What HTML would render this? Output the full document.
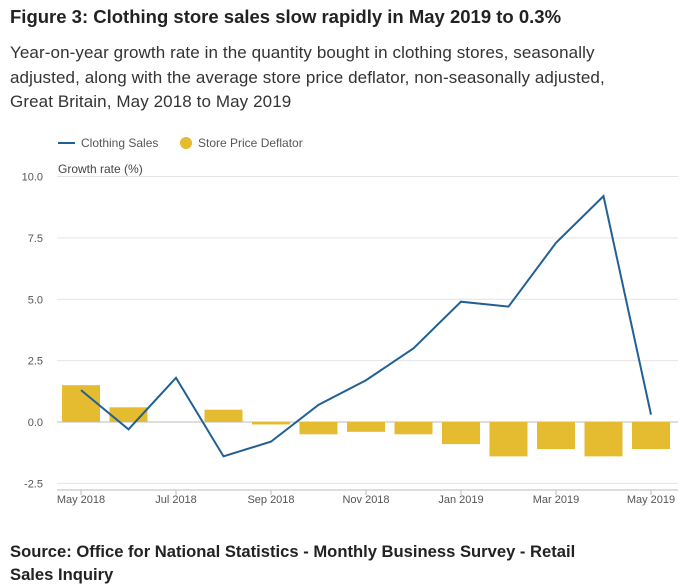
<!DOCTYPE html>
<html><head><meta charset="utf-8"><style>
body{margin:0;background:#fff;font-family:"Liberation Sans",sans-serif;width:687px;height:587px;overflow:hidden;position:relative}
.t{position:absolute;left:10px;top:6px;font-size:18.5px;font-weight:bold;color:#222}
.s{position:absolute;left:10px;top:41px;font-size:17px;letter-spacing:0.1px;line-height:24.5px;color:#333;width:600px}
.src{position:absolute;left:10px;top:540px;font-size:16.6px;font-weight:bold;line-height:23px;color:#222}
svg{position:absolute;left:0;top:0}
</style></head><body>
<div class="t">Figure 3: Clothing store sales slow rapidly in May 2019 to 0.3%</div>
<div class="s">Year-on-year growth rate in the quantity bought in clothing stores, seasonally<br>adjusted, along with the average store price deflator, non-seasonally adjusted,<br>Great Britain, May 2018 to May 2019</div>
<svg id="c" width="687" height="587"></svg>
<div class="src">Source: Office for National Statistics - Monthly Business Survey - Retail<br>Sales Inquiry</div>
<script>
const months=["May 2018","Jun 2018","Jul 2018","Aug 2018","Sep 2018","Oct 2018","Nov 2018","Dec 2018","Jan 2019","Feb 2019","Mar 2019","Apr 2019","May 2019"];
const sales=[1.3,-0.3,1.8,-1.4,-0.8,0.7,1.7,3.0,4.9,4.7,7.3,9.2,0.3];
const deflator=[1.5,0.6,0,0.5,-0.1,-0.5,-0.4,-0.5,-0.9,-1.4,-1.1,-1.4,-1.1];
const yTicks=[-2.5,0,2.5,5,7.5,10];
const yTickLabels=["-2.5","0.0","2.5","5.0","7.5","10.0"];
const xTickIdx=[0,2,4,6,8,10,12];
const NS="http://www.w3.org/2000/svg",svg=document.getElementById('c');
const x=i=>81+i*47.5, y=v=>422-v*24.55;
function mk(t,a,txt){const e=document.createElementNS(NS,t);for(const k in a)e.setAttribute(k,a[k]);if(txt!=null)e.textContent=txt;svg.appendChild(e);return e;}
yTicks.forEach((v,i)=>{
 const g=mk('line',{x1:57,x2:678,y1:y(v),y2:y(v),stroke:v===0?'#bbb':'#e4e4e4','stroke-width':1});
 
 
 const t=mk('text',{x:43,y:y(v)+4,'text-anchor':'end','font-size':11,fill:'#555'},yTickLabels[i]);
 
 
});
const yt=mk('text',{x:58,y:173,'font-size':12,fill:'#444'},'Growth rate (%)');


mk('line',{x1:57,x2:678,y1:490,y2:490,stroke:'#bbb'});
xTickIdx.forEach(i=>{
 mk('line',{x1:x(i),x2:x(i),y1:490,y2:495,stroke:'#bbb'});
 const t=mk('text',{x:x(i),y:503,'text-anchor':'middle','font-size':11,fill:'#555'},months[i]);
 
 
});
deflator.forEach((v,i)=>{
 const b=mk('rect',{x:x(i)-19,width:38,y:Math.min(y(v),y(0)),height:Math.max(Math.abs(y(v)-y(0)),0.01),fill:'#e5bb2f'});
 
 
});
const p=mk('polyline',{points:sales.map((v,i)=>x(i)+','+y(v)).join(' '),fill:'none',stroke:'#206095','stroke-width':2});


const l1=mk('line',{x1:58,x2:75,y1:143,y2:143,stroke:'#206095','stroke-width':2});


const lt1=mk('text',{x:81,y:147,'font-size':12,fill:'#555'},'Clothing Sales');


const c=mk('circle',{cx:186,cy:143,r:6,fill:'#e5bb2f'});


const lt2=mk('text',{x:198,y:147,'font-size':12,fill:'#555'},'Store Price Deflator');


</script>
</body></html>
